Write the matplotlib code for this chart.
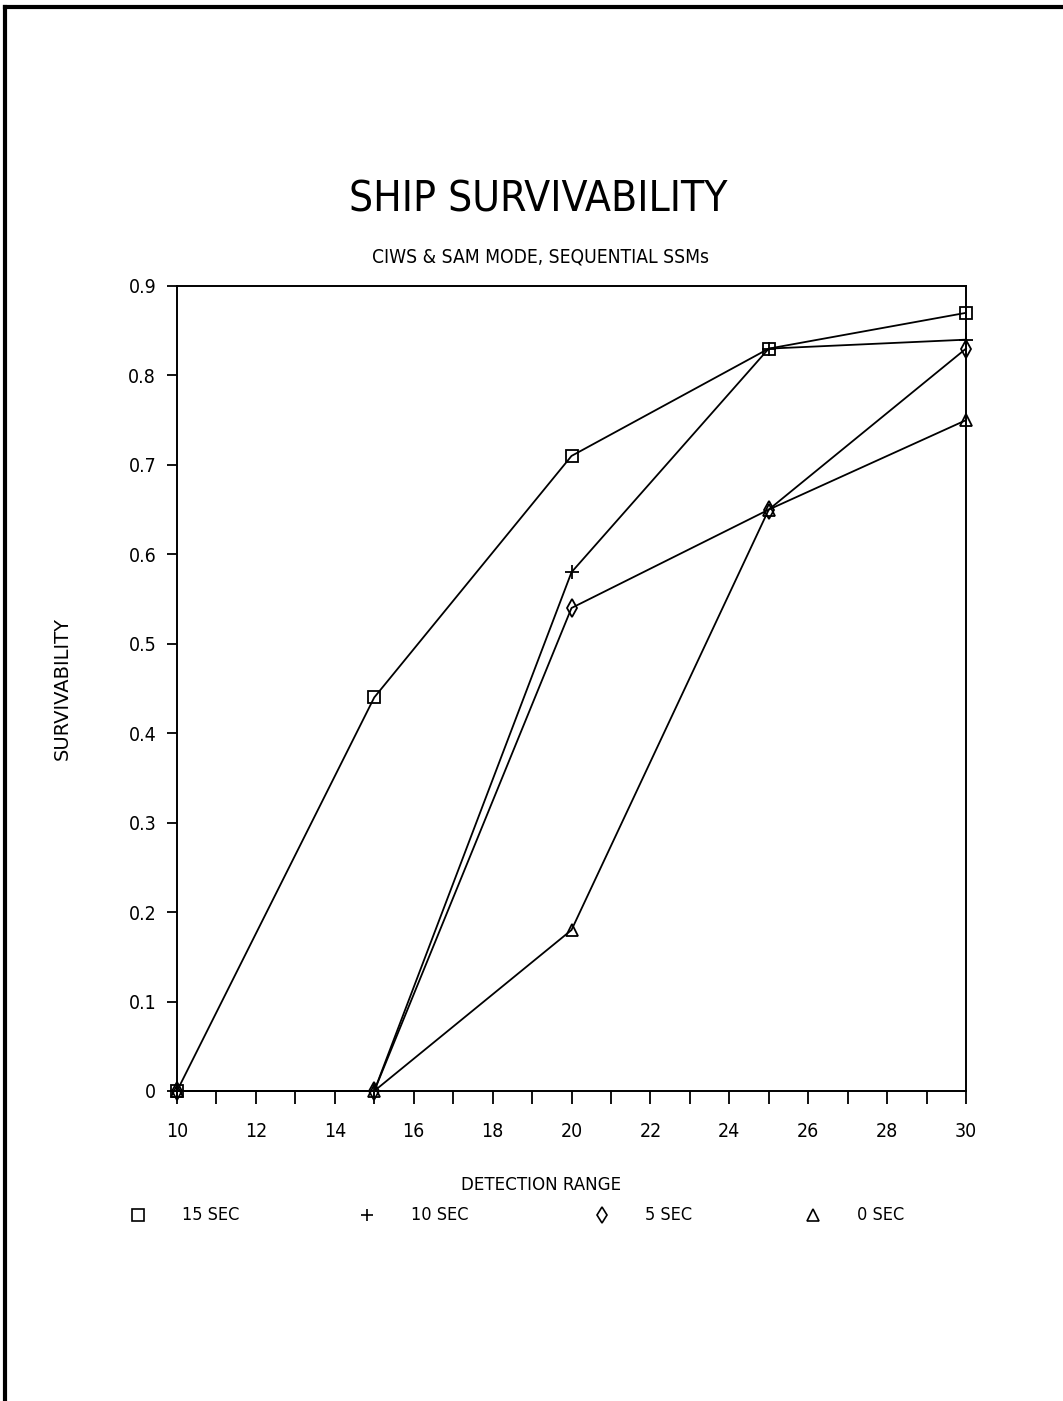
import matplotlib
matplotlib.use("Agg")
import matplotlib.pyplot as plt
from matplotlib.lines import Line2D

plt.rcParams['font.family'] = ['DejaVu Sans']
plt.rcParams['font.stretch'] = 'condensed'

detection_range = [10, 15, 20, 25, 30]
sec15 = [0.0, 0.44, 0.71, 0.83, 0.87]
sec10 = [0.0, 0.0, 0.58, 0.83, 0.84]
sec5 = [0.0, 0.0, 0.54, 0.65, 0.83]
sec0 = [0.0, 0.0, 0.18, 0.65, 0.75]
series_labels = ["15 SEC", "10 SEC", "5 SEC", "0 SEC"]
x_ticks = list(range(10, 31, 2))
y_ticks = [0, 0.1, 0.2, 0.3, 0.4, 0.5, 0.6, 0.7, 0.8, 0.9]
y_ticklabels = ["0", "0.1", "0.2", "0.3", "0.4", "0.5", "0.6", "0.7", "0.8", "0.9"]

W, H = 1063, 1401
fig = plt.figure(figsize=(W / 100, H / 100), dpi=100)
ax = fig.add_axes([177 / W, 1 - 1091 / H, (966 - 177) / W, (1091 - 286) / H])

series = [sec15, sec10, sec5, sec0]
markers = ['s', '+', 'd', '^']
msizes = [9, 10, 9, 9]
for vals, m, ms in zip(series, markers, msizes):
    ax.plot(detection_range, vals, color='black', lw=1.3, marker=m, ms=ms,
            mfc='none', mec='black', mew=1.3, clip_on=False, zorder=3)

ax.set_xlim(10, 30)
ax.set_ylim(0, 0.9)
ax.set_xticks(range(10, 31, 1))
ax.set_xticklabels([str(v) if v in x_ticks else "" for v in range(10, 31)], fontsize=14,
                   fontstretch='condensed')
ax.set_yticks(y_ticks)
ax.set_yticklabels(y_ticklabels, fontsize=14, fontstretch='condensed')
ax.tick_params(axis='x', direction='out', length=9, width=1.3, pad=13)
ax.tick_params(axis='y', direction='out', length=7, width=1.3, pad=8)
for s in ax.spines.values():
    s.set_linewidth(1.4)

fig.text(538 / W, 1 - 200 / H, "SHIP SURVIVABILITY", ha='center', va='center',
         fontsize=30.5, fontstretch='condensed')
fig.text(540 / W, 1 - 257 / H, "CIWS & SAM MODE, SEQUENTIAL SSMs", ha='center',
         va='center', fontsize=13.8, fontstretch='condensed')
fig.text(541 / W, 1 - 1185 / H, "DETECTION RANGE", ha='center', va='center', fontsize=13.3,
         fontstretch='condensed')
fig.text(62 / W, 1 - 688 / H, "SURVIVABILITY", ha='center', va='center',
         rotation=90, fontsize=14, fontstretch='normal')

# legend
leg_mx = [138, 367, 602, 813]
leg_tx = [182, 411, 645, 857]
leg_y = 1 - 1215 / H
for mx, tx, m, lab in zip(leg_mx, leg_tx, markers, series_labels):
    fig.add_artist(Line2D([mx / W], [leg_y], transform=fig.transFigure,
                          marker=m, ms=8, mfc='none', mec='black', mew=1.2,
                          linestyle='none'))
    fig.text(tx / W, leg_y, lab, ha='left', va='center', fontsize=13,
             fontstretch='condensed')

# page border (top and left)
fig.add_artist(Line2D([5 / W, 1], [1 - 7 / H, 1 - 7 / H], transform=fig.transFigure,
                      color='black', lw=3))
fig.add_artist(Line2D([5 / W, 5 / W], [0, 1 - 7 / H], transform=fig.transFigure,
                      color='black', lw=3))

fig.savefig("out.png", dpi=100)
